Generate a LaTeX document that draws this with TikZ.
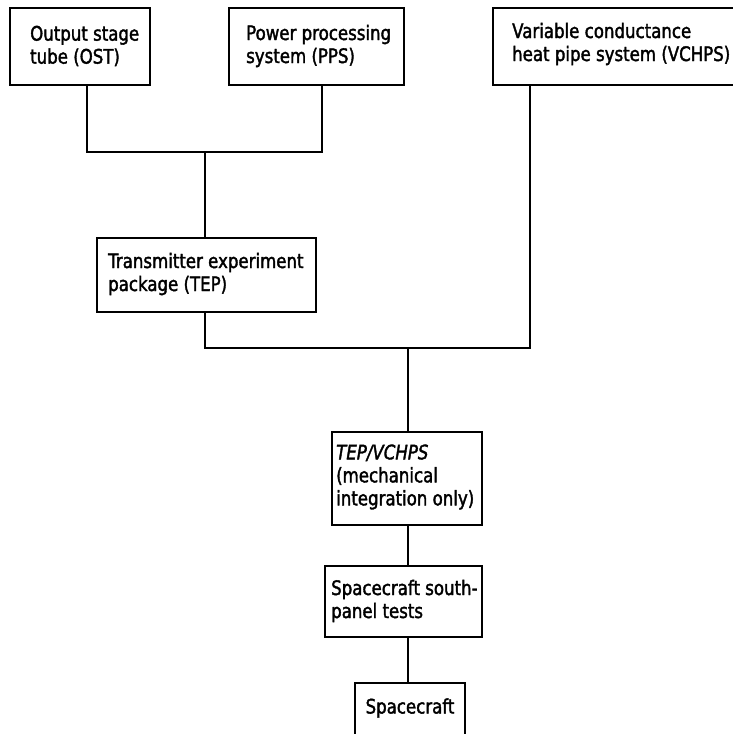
\documentclass[tikz,border=0pt]{standalone}
\usepackage{fontspec}
\setmainfont{DejaVu Sans}[FakeStretch=0.83,FakeBold=1.8]
\begin{document}
\begin{tikzpicture}[x=1pt,y=-1pt,
  box/.style={draw, line width=1.8pt, anchor=north west, inner sep=0pt, outer sep=0pt},
  lbl/.style={anchor=west, align=left, inner sep=0pt, font=\fontsize{20}{23}\selectfont},
  conn/.style={line width=1.8pt}]
\useasboundingbox (0,0) rectangle (732,734);
% boxes
\node[box, minimum width=140pt, minimum height=77pt] (ost) at (10,8) {};
\node[box, minimum width=175pt, minimum height=77pt] (pps) at (229,8) {};
\node[box, minimum width=260pt, minimum height=77pt] (vchps) at (493,8) {};
\node[box, minimum width=219pt, minimum height=74pt] (tep) at (97,238) {};
\node[box, minimum width=150pt, minimum height=93pt] (tv) at (332,432) {};
\node[box, minimum width=157pt, minimum height=71pt] (south) at (325,566) {};
\node[box, minimum width=110pt, minimum height=62pt] (sc) at (355,683) {};
% texts
\node[lbl] (ostt) at (30,46) {Output stage\\tube (OST)};
\node[lbl] (ppst) at (246,46) {Power processing\\system (PPS)};
\node[lbl] (vchpst) at (512,44) {Variable conductance\\heat pipe system (VCHPS)};
\node[lbl] (tept) at (108,274) {Transmitter experiment\\package (TEP)};
\node[lbl] (tvt) at (336,477) {\textit{TEP/VCHPS}\\(mechanical\\integration only)};
\node[lbl] (southt) at (331,601) {Spacecraft south-\\panel tests};
\node[lbl, anchor=center] (sct) at (410,708) {Spacecraft};
% junctions
\coordinate (j1l) at (87,152);
\coordinate (j1r) at (322,152);
\coordinate (j1) at (205,152);
\coordinate (j2l) at (205,348);
\coordinate (j2r) at (530,348);
\coordinate (j2) at (408,348);
% connectors
\draw[conn] (ost.south -| j1l) -- (j1l) -- (j1r) -- (pps.south -| j1r);
\draw[conn] (j1) -- (tep.north -| j1);
\draw[conn] (tep.south -| j2l) -- (j2l) -- (j2r) -- (vchps.south -| j2r);
\draw[conn] (j2) -- (tv.north -| j2);
\draw[conn] (tv.south -| j2) -- (south.north -| j2);
\draw[conn] (south.south -| j2) -- (sc.north -| j2);
\end{tikzpicture}
\end{document}
